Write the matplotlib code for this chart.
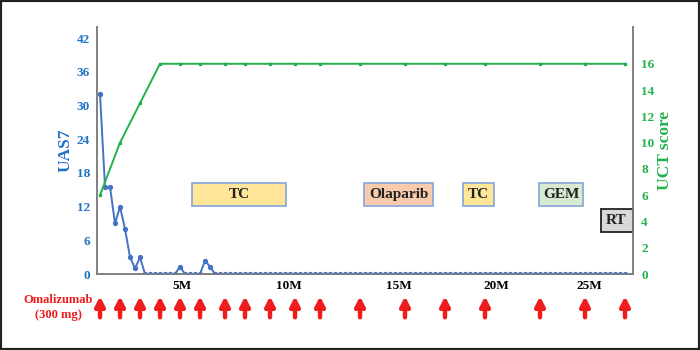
import matplotlib
matplotlib.use('Agg')
import matplotlib.pyplot as plt
from matplotlib.patches import Rectangle

plt.rcParams['font.family'] = ['Liberation Serif', 'DejaVu Serif']
plt.rcParams['font.weight'] = 'bold'
plt.rcParams['axes.labelweight'] = 'bold'

# weekly UAS7 scores (week 0 .. 105)
uas7 = [32, 15.5, 15.5, 9, 12, 8, 3, 1, 3] + [0] * 7 + [1.3] + [0] * 4 + [2.4, 1.3] + [0] * 83
weeks = list(range(len(uas7)))

# UCT score, measured at each omalizumab injection
inj_weeks = [0, 4, 8, 12, 16, 20, 25, 29, 34, 39, 44, 52, 61, 69, 77, 88, 97, 105]
uct = [6, 10, 13, 16, 16, 16, 16, 16, 16, 16, 16, 16, 16, 16, 16, 16, 16, 16]

month_labels = ['5M', '10M', '15M', '20M', '25M']
month_pos = [16.4, 37.8, 59.8, 79.2, 97.8]

# treatments: name, start week, end week, level, fill, edge
treatments = [
    ('TC', 18.4, 37.2, 'hi', '#FFE699', '#8EA9DB'),
    ('Olaparib', 52.8, 66.6, 'hi', '#F8CBAD', '#8EA9DB'),
    ('TC', 72.6, 78.8, 'hi', '#FFE699', '#8EA9DB'),
    ('GEM', 87.8, 96.6, 'hi', '#D9EAD3', '#8EA9DB'),
    ('RT', 100.1, 106.5, 'lo', '#D9D9D9', '#222222'),
]

blue = '#4472C4'
blue_txt = '#1F72C6'
green = '#22B14C'
red = '#EE1C1C'

fig = plt.figure(figsize=(7, 3.5), dpi=100)
ax = fig.add_axes([0.1386, 0.2171, 0.7657, 0.7058])
ax2 = ax.twinx()

ax.plot(weeks, uas7, color=blue, lw=1.4, marker='o', ms=2.8, zorder=3)
ax2.plot(inj_weeks, uct, color=green, lw=1.4, marker='s', ms=1.8, zorder=3)

ax.set_xlim(-0.6, 106.6)
ax.set_ylim(0, 44)
ax2.set_ylim(0, 18.8)
ax.set_yticks(range(0, 43, 6))
ax2.set_yticks(range(0, 17, 2))
ax.set_xticks(month_pos)
ax.set_xticklabels(month_labels)

for a in (ax, ax2):
    a.spines['top'].set_visible(False)
    for s in ('left', 'right', 'bottom'):
        a.spines[s].set_color('#808080')
        a.spines[s].set_linewidth(1.2)
ax.tick_params(axis='x', length=0, pad=4, labelsize=9.5)
ax.tick_params(axis='y', length=0, pad=5, labelsize=9.5, labelcolor=blue_txt)
ax2.tick_params(axis='y', length=0, pad=6, labelsize=9.5, labelcolor=green)

ax.set_ylabel('UAS7', color=blue_txt, fontsize=12.5, labelpad=2)
ax2.set_ylabel('UCT score', color=green, fontsize=12.5, labelpad=2)

tr = ax.get_xaxis_transform()
for name, x0, x1, level, fc, ec in treatments:
    y0, y1 = (0.275, 0.368) if level == 'hi' else (0.170, 0.263)
    ax.add_patch(Rectangle((x0, y0), x1 - x0, y1 - y0, transform=tr,
                           facecolor=fc, edgecolor=ec, lw=1.3, zorder=4, clip_on=False))
    ax.text((x0 + x1) / 2, (y0 + y1) / 2, name, transform=tr, ha='center', va='center',
            fontsize=11, color='#222222', zorder=5)

# omalizumab injection arrows
for w in inj_weeks:
    ax.annotate('', xy=(w, -0.09), xytext=(w, -0.175), xycoords=tr, textcoords=tr,
                arrowprops=dict(arrowstyle='-|>,head_width=0.28,head_length=0.55',
                                lw=3.2, color=red, shrinkA=0, shrinkB=0))

fig.text(58 / 700, 1 - 300 / 350, 'Omalizumab', color=red, fontsize=9,
         ha='center', va='center')
fig.text(58 / 700, 1 - 315 / 350, '(300 mg)', color=red, fontsize=9,
         ha='center', va='center')

fig.patches.append(Rectangle((0, 0), 1, 1, transform=fig.transFigure, fill=False,
                             edgecolor='#222222', lw=3))

fig.savefig('out.png', dpi=100)
